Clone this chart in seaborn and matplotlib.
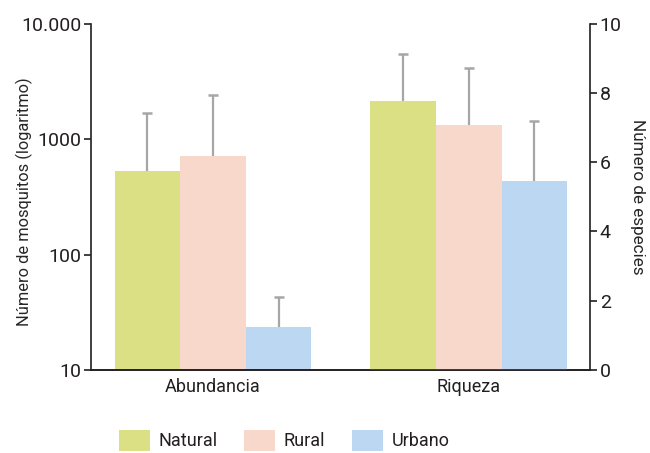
import matplotlib
matplotlib.use("Agg")
import matplotlib.pyplot as plt
from matplotlib.ticker import FixedLocator, FixedFormatter, NullLocator
import seaborn as sns
import pandas as pd

# Data
groups = ["Abundancia", "Riqueza"]
habitats = ["Natural", "Rural", "Urbano"]
abundancia = [525, 713, 23.6]          # mosquitoes (log axis)
abundancia_upper = [1680, 2400, 43]    # top of error bars
riqueza = [7.76, 7.07, 5.45]           # species
riqueza_upper = [9.11, 8.72, 7.19]     # top of error bars
left_ticks = [10, 100, 1000, 10000]
left_ticklabels = ["10", "100", "1000", "10.000"]
right_ticks = [0, 2, 4, 6, 8, 10]

colors = ["#DBE085", "#F8D8CA", "#BBD7F1"]
err_color = "#A6A6A6"
ink = "#231F20"

sns.set_style("ticks")
plt.rcParams["font.family"] = ["Roboto", "DejaVu Sans"]
plt.rcParams["axes.edgecolor"] = ink
plt.rcParams["xtick.color"] = ink
plt.rcParams["ytick.color"] = ink
plt.rcParams["text.color"] = ink

df_ab = pd.DataFrame({"grupo": "Abundancia", "habitat": habitats, "valor": abundancia})
df_ri = pd.DataFrame({"grupo": "Riqueza", "habitat": habitats, "valor": riqueza})

fig = plt.figure(figsize=(6.5, 4.53), dpi=100)
ax1 = fig.add_axes([0.14, 0.1832, 0.7677, 0.7648])
ax1.set_yscale("log")
ax2 = ax1.twinx()

sns.barplot(data=df_ab, x="grupo", y="valor", hue="habitat", order=groups,
            hue_order=habitats, palette=colors, saturation=1, width=0.77,
            errorbar=None, linewidth=0, ax=ax1)
sns.barplot(data=df_ri, x="grupo", y="valor", hue="habitat", order=groups,
            hue_order=habitats, palette=colors, saturation=1, width=0.77,
            errorbar=None, linewidth=0, legend=False, ax=ax2)


def upper_errors(ax, values, uppers):
    bars = sorted([p for p in ax.patches if p.get_height() > 0], key=lambda p: p.get_x())
    xs = [p.get_x() + p.get_width() / 2 for p in bars]
    ax.vlines(xs, values, uppers, colors=err_color, linewidth=1.6, zorder=3)
    ax.plot(xs, uppers, linestyle="none", marker="_", markersize=7,
            markeredgewidth=1.8, color=err_color, zorder=3)


upper_errors(ax1, abundancia, abundancia_upper)
upper_errors(ax2, riqueza, riqueza_upper)

ax1.set_xlim(-0.477, 1.474)
ax1.set_ylim(10, 10000)
ax2.set_ylim(0, 10)

ax1.yaxis.set_major_locator(FixedLocator(left_ticks))
ax1.yaxis.set_major_formatter(FixedFormatter(left_ticklabels))
ax1.yaxis.set_minor_locator(NullLocator())
ax2.set_yticks(right_ticks)

for ax in (ax1, ax2):
    ax.spines["top"].set_visible(False)
    for s in ax.spines.values():
        s.set_linewidth(1.2)
    ax.tick_params(axis="y", length=5, width=1.2, labelsize=14, pad=2)
    ax.tick_params(axis="x", length=0, labelsize=13, pad=6)
ax1.spines["right"].set_visible(False)
ax2.spines["left"].set_visible(False)

ax1.set_xlabel("")
ax2.set_xlabel("")
ax1.set_ylabel("Número de mosquitos (logaritmo)", fontsize=11.8)
ax1.yaxis.set_label_coords(-0.117, 0.485)
ax2.set_ylabel("Número de especies", fontsize=12.3, rotation=-90, labelpad=17)

sns.move_legend(ax1, "lower left", bbox_to_anchor=(0.183, 0.004),
                bbox_transform=fig.transFigure, ncol=3, frameon=False,
                title=None, fontsize=13, handlelength=1.72, handleheight=1.45,
                handletextpad=0.45, columnspacing=1.5, borderpad=0, borderaxespad=0)

fig.savefig("out.png", dpi=100)
